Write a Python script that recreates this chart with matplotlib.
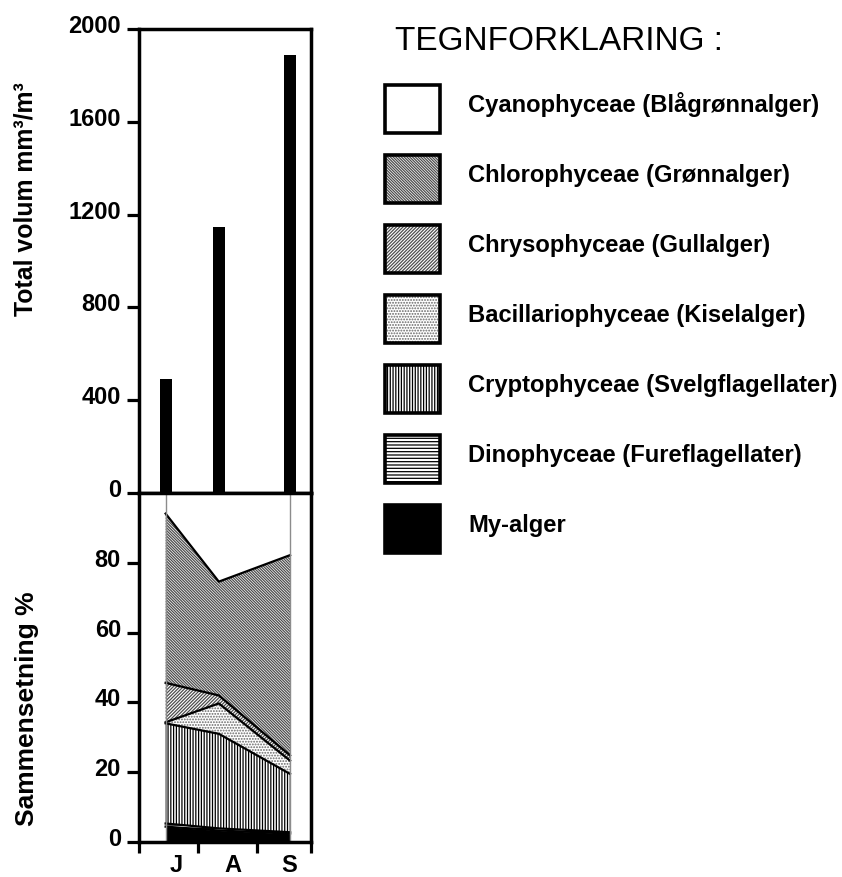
import matplotlib.pyplot as plt
from matplotlib.patches import Rectangle
from matplotlib.transforms import ScaledTranslation

plt.rcParams['font.family'] = ['Liberation Sans', 'DejaVu Sans']
plt.rcParams['hatch.linewidth'] = 0.9

# sampling days (days from start of axis) and month axis
sample_day = [14, 42, 79.5]
month_edges = [0, 31, 62, 90.5]
month_label_day = [19.6, 49.5, 79]
month_labels = ["J", "A", "S"]

# total volume mm3/m3
total_volume = [490, 1145, 1890]

# composition in percent, bottom to top of the stack
my_alger = [4.4, 3.3, 2.4]
dinophyceae = [0.9, 0.6, 0.4]
cryptophyceae = [28.7, 27.1, 16.7]
bacillariophyceae = [0.3, 8.7, 3.8]
chrysophyceae = [11.3, 2.3, 1.5]
chlorophyceae = [48.5, 32.6, 57.4]
cyanophyceae = [5.9, 25.4, 17.8]

legend_labels = [
    "Cyanophyceae (Blågrønnalger)",
    "Chlorophyceae (Grønnalger)",
    "Chrysophyceae (Gullalger)",
    "Bacillariophyceae (Kiselalger)",
    "Cryptophyceae (Svelgflagellater)",
    "Dinophyceae (Fureflagellater)",
    "My-alger",
]

# style per group: (face, hatch, hatch colour), same order as the stack
stack = [my_alger, dinophyceae, cryptophyceae, bacillariophyceae,
         chrysophyceae, chlorophyceae, cyanophyceae]
styles = [
    ("black", None, "black"),
    ("white", "-----", "black"),
    ("white", "||||||", "black"),
    ("white", "......", "0.4"),
    ("white", "//////////", "0.3"),
    ("white", "\\" * 12, "0.3"),
    ("white", None, "black"),
]

W, H = 842, 877
fig = plt.figure(figsize=(W / 100, H / 100), dpi=100)

def fig_box(left, top, right, bottom):
    return [left / W, 1 - bottom / H, (right - left) / W, (bottom - top) / H]

ax_top = fig.add_axes(fig_box(139, 29, 311, 493))
ax_bot = fig.add_axes(fig_box(139, 493, 311, 842))

spine_lw = 2.5
tick_kw = dict(direction="out", length=9, width=2.3, labelsize=17, pad=4)

# upper panel: total volume bars
ax_top.bar(sample_day, total_volume, width=6.3, color="black")
ax_top.set_xlim(month_edges[0], month_edges[-1])
ax_top.set_ylim(0, 2000)
ax_top.set_yticks(range(0, 2001, 400))
ax_top.set_xticks([])
ax_top.tick_params(axis="y", **tick_kw)

# lower panel: stacked composition
lower = [0, 0, 0]
for values, (face, hatch, hcol) in zip(stack, styles):
    upper = [a + b for a, b in zip(lower, values)]
    ax_bot.fill_between(sample_day, lower, upper, facecolor=face,
                        edgecolor=hcol, linewidth=0, hatch=hatch)
    lower = upper

lower = [0, 0, 0]
for values in stack[:-1]:
    lower = [a + b for a, b in zip(lower, values)]
    ax_bot.plot(sample_day, lower, color="black", lw=1.6)
ax_bot.vlines([sample_day[0], sample_day[-1]], 0, 100, color="0.55", lw=1)

ax_bot.set_xlim(month_edges[0], month_edges[-1])
ax_bot.set_ylim(0, 100)
ax_bot.set_yticks(range(0, 81, 20))
ax_bot.set_xticks(month_edges)
ax_bot.set_xticklabels([])
ax_bot.set_xticks(month_label_day, minor=True)
ax_bot.set_xticklabels(month_labels, minor=True)
ax_bot.tick_params(axis="y", **tick_kw)
ax_bot.tick_params(axis="x", which="major", direction="out", length=8, width=2.3)
ax_bot.tick_params(axis="x", which="minor", length=0, labelsize=17, pad=9)

shift = ScaledTranslation(0, 0.05, fig.dpi_scale_trans)
for ax in (ax_top, ax_bot):
    for sp in ax.spines.values():
        sp.set_linewidth(spine_lw)
    for lab in ax.get_yticklabels():
        lab.set_fontweight("bold")
        lab.set_transform(lab.get_transform() + shift)
for lab in ax_bot.get_xticklabels(minor=True):
    lab.set_fontweight("bold")

fig.text(33 / W, 1 - 199 / H, "Total volum mm³/m³", rotation=90,
         rotation_mode="anchor", ha="center", va="baseline",
         fontsize=17.9, fontweight="bold")
fig.text(34 / W, 1 - 709 / H, "Sammensetning %", rotation=90,
         rotation_mode="anchor", ha="center", va="baseline",
         fontsize=19, fontweight="bold")

# legend drawn by hand
fig.text(395 / W, 1 - 50 / H, "TEGNFORKLARING :", fontsize=24,
         ha="left", va="baseline")
legend_styles = styles[::-1]
for i, (label, (face, hatch, hcol)) in enumerate(zip(legend_labels, legend_styles)):
    top = 85 + 70 * i
    x0, y0 = 385 / W, 1 - (top + 48) / H
    fig.patches.append(Rectangle((x0, y0), 55 / W, 48 / H, transform=fig.transFigure,
                                 facecolor=face, edgecolor=hcol, linewidth=0, hatch=hatch))
    fig.patches.append(Rectangle((x0, y0), 55 / W, 48 / H, transform=fig.transFigure,
                                 fill=False, edgecolor="black", linewidth=2.6))
    fig.text(468 / W, 1 - (top + 27) / H, label, fontsize=17.1,
             fontweight="bold", ha="left", va="baseline")

fig.savefig("out.png", dpi=100)
